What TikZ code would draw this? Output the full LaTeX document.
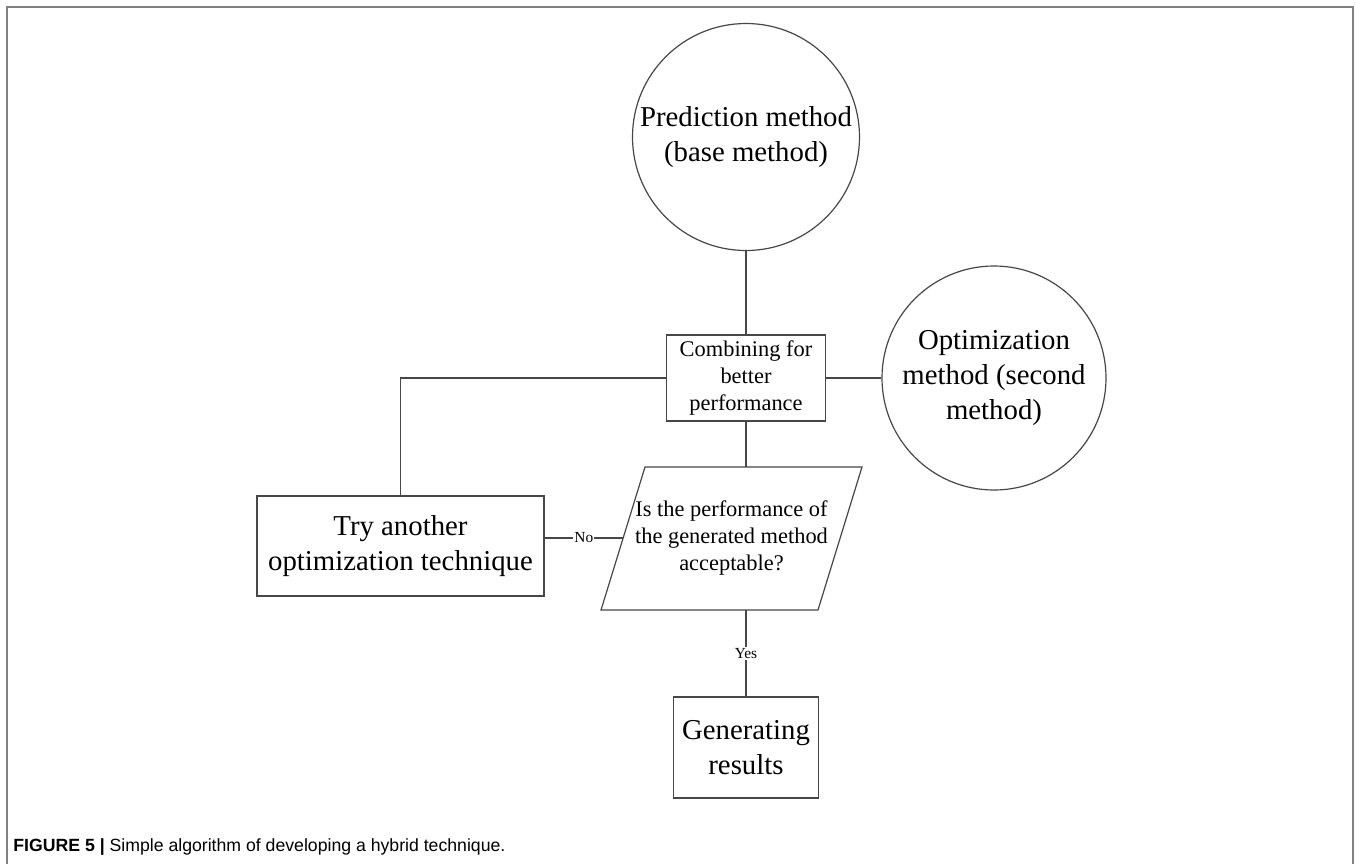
\documentclass[tikz,border=0pt]{standalone}
\usepackage{fontspec}
\setmainfont{Liberation Serif}
\newfontfamily\capfont{Liberation Sans}
\usepackage{graphicx}
\begin{document}
\begin{tikzpicture}[x=0.5pt,y=-0.5pt,
  line/.style={draw=black!72, line width=0.6pt},
  bigtxt/.style={font=\fontsize{14.4}{17.5}\selectfont, align=center, text=black},
  midtxt/.style={font=\fontsize{11.2}{13.3}\selectfont, align=center, text=black},
  circ/.style={circle, line, bigtxt, inner sep=0pt},
  boxA/.style={rectangle, line, inner sep=0pt},
  lbl/.style={font=\fontsize{7.7}{9}\selectfont, fill=white, inner sep=0.6pt},
]
\useasboundingbox (0,0) rectangle (1356,864);
\fill[white] (0,0) rectangle (1356,864);
\draw[black!50, line width=0.7pt] (7,864) -- (7,7) -- (1353,7) -- (1353,864);

\node[circ, minimum size=113.5pt] (pred) at (746,137) {Prediction method\\(base method)};
\node[circ, minimum size=112pt] (opt) at (994,378) {Optimization\\method (second\\method)};
\node[boxA, midtxt, minimum width=79.5pt, minimum height=43pt] (comb) at (746,378) {Combining for\\better\\performance};
\node[boxA, bigtxt, minimum width=143.5pt, minimum height=50pt] (try) at (400.5,546) {Try another\\optimization technique};
\node[boxA, bigtxt, minimum width=72.5pt, minimum height=50.5pt] (gen) at (746,747.5) {Generating\\results};

\coordinate (pTL) at (645,467);
\coordinate (pTR) at (862,467);
\coordinate (pBR) at (818,610);
\coordinate (pBL) at (601,610);
\draw[line] (pTL) -- (pTR) -- (pBR) -- (pBL) -- cycle;
\node[midtxt] (q) at (731.5,538) {Is the performance of\\the generated method\\acceptable?};
\coordinate (pTop) at (746,467);
\coordinate (pBot) at (746,610);
\coordinate (pLeft) at (623,538);

\draw[line] (pred) -- (comb);
\draw[line] (comb.east) -- (opt.west);
\draw[line] (comb.west) -| (try.north);
\draw[line] (comb.south) -- (pTop);
\draw[line] (pLeft) -- node[lbl]{No} (pLeft -| try.east);
\draw[line] (pBot) -- node[lbl]{Yes} (gen.north);

\node[anchor=base west, inner sep=0pt] (cap) at (13,851) {\resizebox{246pt}{!}{\capfont\fontsize{8.85}{10}\selectfont\textbf{FIGURE 5 |} Simple algorithm of developing a hybrid technique.}};
\end{tikzpicture}
\end{document}
